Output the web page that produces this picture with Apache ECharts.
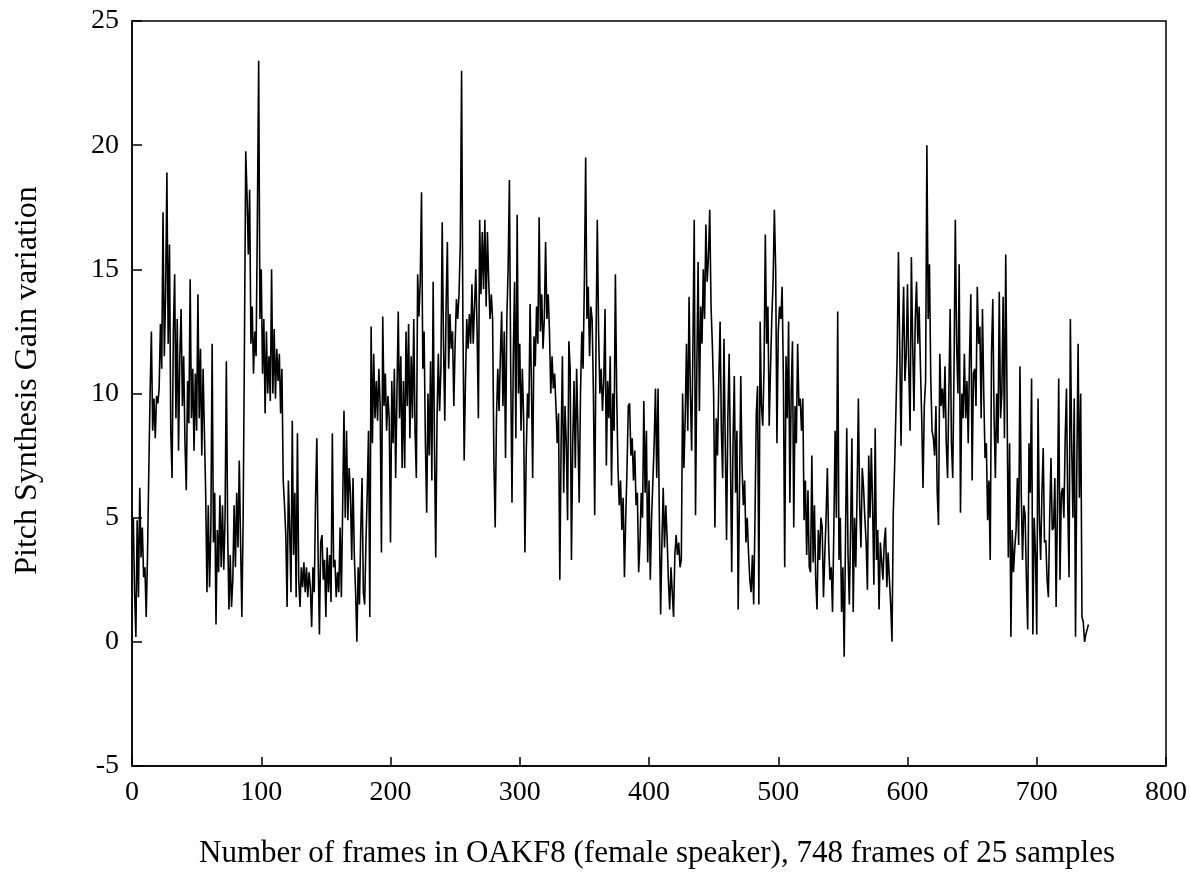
<!DOCTYPE html>
<html>
<head>
<meta charset="utf-8">
<title>Pitch Synthesis Gain variation</title>
<script src="https://cdn.jsdelivr.net/npm/echarts@6/dist/echarts.min.js"></script>
<style>
  html, body { margin: 0; padding: 0; background: #fff; overflow: hidden; }
  #chart { width: 1190px; height: 874px; }
</style>
</head>
<body>
<div id="chart"></div>
<script>
// gain per frame (frames 1..740)
const gain000 = [
  5.0, 2.0, 0.2, 4.9, 1.8, 6.2, 3.4, 4.6, 2.6, 3.0, 1.0, 3.5, 6.9, 10.0, 12.5, 8.5, 9.8, 8.2, 9.9, 9.6,
  10.2, 12.8, 11.0, 17.3, 11.5, 14.0, 18.9, 12.0, 16.0, 8.5, 6.6, 12.5, 14.8, 9.0, 13.0, 7.7, 11.5, 13.4, 9.5, 11.5,
  8.0, 6.1, 10.5, 8.8, 14.6, 9.0, 11.0, 7.7, 10.8, 8.5, 14.0, 9.0, 11.8, 7.5, 11.0, 8.5, 6.0, 2.0, 5.5, 2.2,
  4.5, 12.0, 4.0, 6.0, 0.7, 4.5, 2.8, 5.9, 3.0, 5.5, 2.9, 5.0, 11.3, 4.5, 1.3, 3.5, 1.4, 2.5, 5.5, 3.0,
  6.0, 3.8, 7.3, 4.0, 1.0, 5.0, 12.0, 19.75, 18.0, 15.6, 18.2, 12.0, 13.5, 10.8, 12.5, 11.5, 17.0, 23.4, 13.0, 15.0
];
const gain100 = [
  10.8, 13.0, 9.2, 12.5, 10.0, 11.5, 9.7, 15.0, 10.0, 12.6, 9.8, 11.8, 10.5, 11.6, 9.2, 11.0, 6.5, 5.5, 4.3, 1.4,
  6.5, 4.5, 2.0, 8.9, 3.5, 6.0, 1.8, 8.4, 2.5, 1.4, 3.0, 2.2, 3.2, 2.0, 3.0, 1.8, 2.8, 2.2, 0.6, 3.0,
  2.0, 5.7, 8.2, 3.5, 0.3, 4.0, 4.3, 2.5, 3.3, 1.0, 3.8, 2.0, 3.5, 1.6, 8.4, 3.0, 3.3, 1.8, 2.8, 2.0,
  4.6, 1.8, 5.5, 9.3, 5.0, 8.5, 4.9, 7.0, 6.0, 3.3, 6.6, 3.5, 2.0, 0.0, 3.0, 1.5, 4.5, 6.6, 2.0, 1.5,
  4.0, 6.0, 8.5, 1.0, 12.7, 8.0, 11.6, 9.0, 10.5, 8.9, 11.0, 9.5, 3.6, 13.1, 9.5, 10.8, 8.5, 9.9, 9.0, 4.0
];
const gain200 = [
  10.5, 8.0, 11.0, 6.6, 10.0, 13.3, 9.0, 11.5, 7.0, 10.5, 7.0, 12.5, 9.5, 12.8, 8.2, 11.5, 9.0, 13.0, 8.5, 6.6,
  14.8, 13.1, 14.5, 18.1, 11.0, 12.5, 8.0, 5.2, 10.0, 7.5, 11.3, 6.5, 14.5, 8.0, 3.4, 9.0, 11.6, 9.3, 11.0, 16.9,
  12.0, 8.9, 13.5, 16.1, 11.0, 13.2, 11.8, 12.5, 9.5, 12.0, 13.8, 13.0, 14.0, 16.0, 23.0, 13.0, 7.3, 10.5, 13.0, 11.8,
  13.2, 12.0, 14.4, 12.0, 13.5, 15.0, 12.5, 9.0, 17.0, 14.0, 16.5, 14.2, 17.0, 13.5, 16.5, 14.5, 13.0, 14.0, 13.0, 7.3,
  4.6, 9.0, 11.0, 9.3, 11.5, 13.3, 9.5, 12.5, 7.4, 13.0, 15.0, 18.6, 11.0, 5.6, 11.5, 14.5, 8.2, 17.2, 10.0, 12.0
];
const gain300 = [
  8.5, 11.0, 9.0, 3.6, 7.5, 10.0, 9.0, 13.6, 10.5, 6.6, 12.3, 11.1, 13.5, 12.0, 17.1, 12.5, 14.0, 11.8, 13.0, 16.1,
  13.0, 14.0, 12.5, 10.0, 11.5, 10.2, 10.8, 9.5, 8.0, 9.2, 2.5, 8.0, 11.5, 6.0, 9.5, 8.0, 4.9, 12.1, 11.0, 3.3,
  8.0, 10.5, 7.0, 11.0, 8.5, 5.6, 10.0, 12.5, 11.0, 14.5, 19.5, 13.0, 14.3, 11.5, 13.5, 13.0, 10.0, 5.1, 12.0, 17.0,
  12.5, 10.0, 11.0, 9.3, 10.5, 13.4, 7.1, 10.5, 9.0, 11.5, 6.3, 10.0, 8.5, 14.8, 10.0, 7.0, 5.5, 6.5, 4.5, 5.8,
  2.6, 5.0, 7.0, 9.5, 9.6, 7.5, 8.2, 6.5, 7.7, 5.5, 6.0, 2.8, 4.0, 6.0, 5.0, 9.7, 6.0, 8.5, 3.2, 6.5
];
const gain400 = [
  2.5, 5.0, 6.5, 8.0, 10.2, 6.6, 10.2, 5.0, 1.1, 4.0, 6.2, 3.8, 5.5, 4.2, 2.5, 1.3, 3.0, 2.0, 1.0, 3.5,
  4.3, 3.5, 4.0, 3.0, 3.3, 10.0, 7.0, 9.0, 12.0, 8.5, 13.9, 10.0, 7.7, 12.0, 17.0, 5.1, 11.0, 15.3, 9.3, 13.5,
  12.0, 15.0, 13.0, 16.8, 14.5, 15.5, 17.4, 13.5, 12.0, 10.0, 4.6, 9.0, 7.5, 10.5, 12.9, 8.5, 6.6, 12.2, 8.0, 4.1,
  9.0, 11.6, 7.5, 2.8, 8.0, 10.7, 6.0, 8.5, 1.3, 6.0, 10.7, 7.0, 5.5, 6.5, 4.0, 5.0, 3.6, 2.5, 2.0, 3.5,
  1.5, 5.0, 9.2, 10.3, 1.5, 12.9, 9.5, 8.7, 11.0, 16.4, 12.0, 13.5, 8.7, 11.0, 13.0, 14.5, 17.4, 15.0, 8.0, 12.5
];
const gain500 = [
  13.5, 13.0, 14.3, 10.5, 3.0, 11.5, 9.0, 12.9, 5.6, 10.0, 12.1, 4.6, 9.5, 8.0, 12.0, 9.5, 9.8, 8.5, 9.8, 4.9,
  6.5, 3.5, 6.1, 3.0, 2.8, 7.5, 3.2, 5.5, 2.5, 1.3, 4.5, 3.3, 5.0, 4.6, 1.8, 3.5, 5.0, 7.0, 4.0, 2.5,
  3.0, 1.2, 4.5, 8.5, 5.0, 13.3, 3.3, 5.0, 1.2, 3.0, -0.6, 4.0, 8.6, 3.5, 1.5, 4.5, 8.2, 1.2, 5.0, 3.0,
  6.0, 9.8, 5.5, 3.8, 7.0, 6.2, 5.0, 4.0, 2.1, 7.5, 5.0, 7.8, 5.5, 2.3, 8.6, 3.3, 4.5, 1.3, 4.0, 4.0,
  2.5, 4.0, 4.6, 2.2, 3.6, 2.5, 1.5, 0.0, 5.2, 7.0, 9.2, 11.5, 15.7, 11.8, 7.9, 12.0, 14.3, 10.5, 11.5, 14.4
];
const gain600 = [
  11.0, 8.5, 15.5, 12.0, 9.3, 13.0, 14.5, 12.0, 13.5, 11.1, 9.0, 6.2, 9.5, 10.5, 20.0, 13.0, 15.2, 10.6, 8.5, 8.2,
  7.5, 9.5, 6.0, 4.7, 11.6, 9.5, 10.2, 9.0, 11.1, 8.0, 6.6, 10.0, 13.4, 8.0, 6.6, 11.0, 17.0, 12.0, 10.0, 15.2,
  5.2, 10.0, 9.0, 11.6, 9.0, 10.5, 8.0, 11.5, 14.0, 6.5, 10.8, 11.0, 9.5, 14.3, 12.0, 12.7, 9.0, 13.4, 10.0, 7.4,
  8.0, 4.9, 6.5, 3.3, 11.6, 13.8, 9.0, 6.6, 10.0, 8.0, 14.1, 9.0, 10.0, 13.9, 8.2, 15.6, 10.0, 3.4, 8.0, 0.2,
  4.5, 2.8, 3.8, 4.5, 6.6, 3.9, 11.1, 6.0, 3.3, 5.5, 5.1, 2.5, 0.5, 8.0, 6.0, 10.6, 0.3, 5.0, 3.6, 0.3
];
const gain700 = [
  9.8, 5.0, 3.3, 6.0, 7.8, 4.0, 4.1, 2.5, 1.8, 5.0, 7.4, 4.5, 4.6, 6.6, 1.4, 5.5, 10.6, 2.5, 6.0, 6.2,
  5.0, 8.2, 10.2, 5.5, 2.6, 13.0, 8.0, 5.0, 9.8, 0.2, 7.0, 12.0, 5.8, 10.0, 1.0, 0.8, 0.0, 0.3, 0.5, 0.7
];

const xTicks = [0, 100, 200, 300, 400, 500, 600, 700, 800];
const yTicks = [-5, 0, 5, 10, 15, 20, 25];

const gain = [].concat(gain000, gain100, gain200, gain300, gain400, gain500, gain600, gain700);
const points = gain.map((v, i) => [i + 1, v]);

const serif = '"Liberation Serif", "DejaVu Serif", serif';

const chart = echarts.init(document.getElementById('chart'), null, { renderer: 'canvas' });

chart.setOption({
  backgroundColor: '#fff',
  animation: false,
  grid: {
    left: 132,
    right: 14,
    top: 21,
    bottom: 107,
    show: true,
    borderColor: '#000',
    borderWidth: 1.5,
    backgroundColor: 'transparent'
  },
  xAxis: {
    type: 'value',
    min: xTicks[0],
    max: xTicks[xTicks.length - 1],
    interval: 100,
    name: 'Number of frames in OAKF8 (female speaker), 748 frames of 25 samples',
    nameLocation: 'middle',
    nameGap: 72,
    nameTextStyle: { fontFamily: serif, fontSize: 31, color: '#000', padding: [0, 0, 0, 16] },
    axisLine: { show: true, onZero: false, lineStyle: { color: '#000', width: 1.5 } },
    axisTick: { show: true, inside: true, length: 9, lineStyle: { color: '#000', width: 1.5 } },
    axisLabel: { fontFamily: serif, fontSize: 28, color: '#000', margin: 13 },
    splitLine: { show: false }
  },
  yAxis: {
    type: 'value',
    min: yTicks[0],
    max: yTicks[yTicks.length - 1],
    interval: 5,
    name: 'Pitch Synthesis Gain variation',
    nameLocation: 'middle',
    nameGap: 88,
    nameRotate: 90,
    nameTextStyle: { fontFamily: serif, fontSize: 32, color: '#000', padding: [0, 0, 0, 26] },
    axisLine: { show: true, onZero: false, lineStyle: { color: '#000', width: 1.5 } },
    axisTick: { show: true, inside: true, length: 10, lineStyle: { color: '#000', width: 1.5 } },
    axisLabel: { fontFamily: serif, fontSize: 28, color: '#000', margin: 13 },
    splitLine: { show: false }
  },
  series: [
    {
      type: 'line',
      data: points,
      showSymbol: false,
      lineStyle: { color: '#000', width: 1.6 },
      silent: true
    }
  ]
});
</script>
</body>
</html>
